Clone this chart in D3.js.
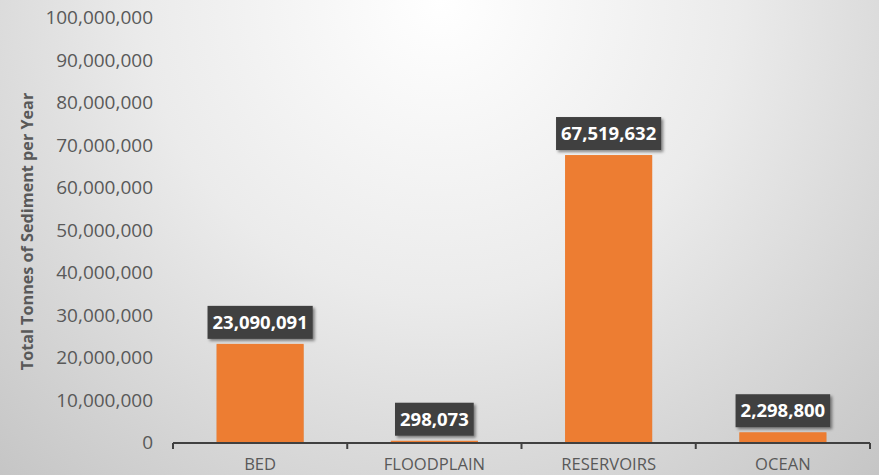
<!DOCTYPE html>
<html>
<head>
<meta charset="utf-8">
<script src="https://cdn.jsdelivr.net/npm/d3@7/dist/d3.min.js"></script>
<style>
  html, body { margin: 0; padding: 0; background: #fff; }
  svg { display: block; }
</style>
</head>
<body>
<svg id="chart" width="879" height="475"></svg>
<script>
// Sediment destinations and annual tonnage
const categories = ["BED", "FLOODPLAIN", "RESERVOIRS", "OCEAN"];
const tonnes = [23090091, 298073, 67519632, 2298800];
const yTicks = [0, 10000000, 20000000, 30000000, 40000000, 50000000, 60000000, 70000000, 80000000, 90000000, 100000000];
const yTitle = "Total Tonnes of Sediment per Year";

const W = 879, H = 475;
const margin = { left: 173, right: 9, top: 17, bottom: 33 };

const svg = d3.select("#chart");
const defs = svg.append("defs");

// soft radial backdrop
const bg = defs.append("radialGradient")
  .attr("id", "bg").attr("gradientUnits", "userSpaceOnUse")
  .attr("cx", 440).attr("cy", 0).attr("r", 660);
bg.append("stop").attr("offset", 0).attr("stop-color", "#ffffff");
bg.append("stop").attr("offset", 0.45).attr("stop-color", "#ebebeb");
bg.append("stop").attr("offset", 1).attr("stop-color", "#c4c4c4");

const shadow = defs.append("filter").attr("id", "shadow")
  .attr("x", "-20%").attr("y", "-30%").attr("width", "150%").attr("height", "170%");
shadow.append("feDropShadow").attr("dx", 2).attr("dy", 2).attr("stdDeviation", 1.8)
  .attr("flood-color", "#000").attr("flood-opacity", 0.45);

const lineShadow = defs.append("filter").attr("id", "lineShadow")
  .attr("x", "-5%").attr("y", "-200%").attr("width", "110%").attr("height", "500%");
lineShadow.append("feDropShadow").attr("dx", 0).attr("dy", 1).attr("stdDeviation", 0.6)
  .attr("flood-color", "#000").attr("flood-opacity", 0.18);

svg.append("rect").attr("width", W).attr("height", H).attr("fill", "url(#bg)");

const x = d3.scaleBand().domain(categories)
  .range([margin.left, W - margin.right]).padding(0);
const y = d3.scaleLinear().domain([0, 100000000])
  .range([H - margin.bottom, margin.top]);

const fmt = d3.format(",");

// gridlines
svg.append("g").selectAll("line").data(yTicks.slice(1)).join("line")
  .attr("x1", margin.left).attr("x2", W - margin.right)
  .attr("y1", d => y(d)).attr("y2", d => y(d))
  .attr("stroke", "#d4d4d4").attr("stroke-width", 1.6)
  .attr("filter", "url(#lineShadow)");

// y-axis labels
const yAxis = d3.axisLeft(y).tickValues(yTicks).tickFormat(fmt).tickSize(0).tickPadding(20);
const gy = svg.append("g").attr("transform", `translate(${margin.left},0)`).call(yAxis);
gy.select(".domain").remove();
gy.selectAll("text")
  .attr("font-family", "'Open Sans', sans-serif").attr("font-size", 19)
  .attr("fill", "#595959").attr("dy", "0.35em");

// bars
const barW = x.bandwidth() * 0.5;
svg.append("g").selectAll("rect").data(tonnes).join("rect")
  .attr("x", (d, i) => x(categories[i]) + (x.bandwidth() - barW) / 2)
  .attr("width", barW)
  .attr("y", d => y(d))
  .attr("height", d => y(0) - y(d))
  .attr("fill", "#ed7d31")
  .attr("filter", "url(#lineShadow)");

// x axis with boundary ticks
const xAxis = d3.axisBottom(x).tickSize(0).tickPadding(15);
const gx = svg.append("g").attr("transform", `translate(0,${y(0) + 1})`).call(xAxis);
gx.select(".domain").remove();
gx.selectAll("text")
  .attr("font-family", "'Open Sans', sans-serif").attr("font-size", 16.6)
  .attr("fill", "#595959");
gx.append("line")
  .attr("x1", margin.left).attr("x2", W - margin.right)
  .attr("stroke", "#404040").attr("stroke-width", 2.2);
const bounds = categories.map(c => x(c)).concat([x(categories[categories.length - 1]) + x.bandwidth()]);
gx.selectAll(".bound").data(bounds).join("line").attr("class", "bound")
  .attr("x1", d => d).attr("x2", d => d).attr("y1", 0).attr("y2", 6)
  .attr("stroke", "#404040").attr("stroke-width", 2);

// value labels in dark boxes
const lab = svg.append("g").selectAll("g").data(tonnes).join("g")
  .attr("transform", (d, i) => `translate(${x(categories[i]) + x.bandwidth() / 2},${y(d) - 5})`);
lab.append("text")
  .attr("text-anchor", "middle").attr("y", -10)
  .attr("font-family", "'Open Sans', sans-serif").attr("font-weight", 700)
  .attr("font-size", 18.5).attr("fill", "#ffffff")
  .text(d => fmt(d));
lab.each(function () {
  const g = d3.select(this);
  const bb = g.select("text").node().getBBox();
  g.insert("rect", "text")
    .attr("x", bb.x - 5).attr("y", -33).attr("width", bb.width + 10).attr("height", 33)
    .attr("fill", "#404040").attr("filter", "url(#shadow)");
});

// y-axis title
svg.append("text")
  .attr("transform", `translate(33,${(margin.top + y(0)) / 2 + 2}) rotate(-90)`)
  .attr("text-anchor", "middle")
  .attr("font-family", "'Open Sans', sans-serif").attr("font-weight", 700)
  .attr("font-size", 16.2).attr("fill", "#595959")
  .text(yTitle);
</script>
</body>
</html>
